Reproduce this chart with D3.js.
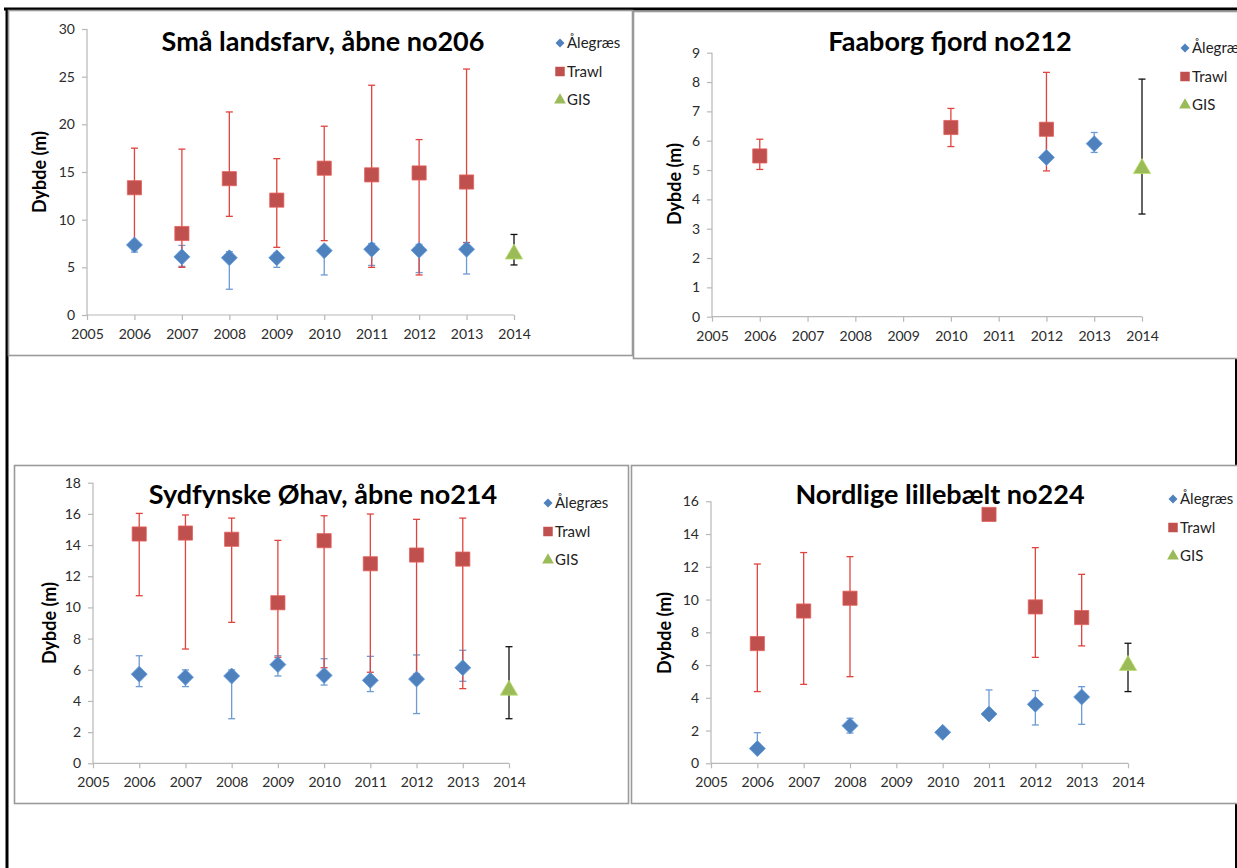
<!DOCTYPE html>
<html>
<head>
<meta charset="utf-8">
<script src="https://cdn.jsdelivr.net/npm/d3@7"></script>
<style>
  html, body { margin: 0; padding: 0; background: #fff; }
  svg { display: block; }
</style>
</head>
<body>
<svg id="chart" width="1237" height="868"></svg>
<script>
// ---- data: depth (m) per year, with lower / upper error values ----
const xTickYears = [2005, 2006, 2007, 2008, 2009, 2010, 2011, 2012, 2013, 2014];
const years = [2006, 2007, 2008, 2009, 2010, 2011, 2012, 2013];
const gisYear = [2014];
const seriesNames = ["Ålegræs", "Trawl", "GIS"];

// Små landsfarv, åbne no206
const no206Alegraes   = [7.35, 6.1, 6.0, 6.0, 6.75, 6.9, 6.8, 6.9];
const no206AlegraesLo = [6.6, 5.1, 2.7, 5.0, 4.2, 5.2, 4.45, 4.3];
const no206AlegraesHi = [7.6, 7.3, 6.65, 6.5, 7.0, 7.5, 7.4, 7.2];
const no206Trawl      = [13.35, 8.55, 14.3, 12.05, 15.4, 14.7, 14.9, 13.95];
const no206TrawlLo    = [7.6, 5.0, 10.35, 7.1, 7.8, 5.0, 4.2, 7.6];
const no206TrawlHi    = [17.5, 17.4, 21.3, 16.4, 19.8, 24.1, 18.4, 25.8];
const no206Gis   = [6.55];
const no206GisLo = [5.25];
const no206GisHi = [8.45];

// Faaborg fjord no212
const no212Alegraes   = [null, null, null, null, null, null, 5.43, 5.9];
const no212AlegraesLo = [null, null, null, null, null, null, 5.3, 5.6];
const no212AlegraesHi = [null, null, null, null, null, null, 6.2, 6.28];
const no212Trawl      = [5.48, null, null, null, 6.45, null, 6.39, null];
const no212TrawlLo    = [5.02, null, null, null, 5.8, null, 4.97, null];
const no212TrawlHi    = [6.05, null, null, null, 7.1, null, 8.33, null];
const no212Gis   = [5.1];
const no212GisLo = [3.5];
const no212GisHi = [8.1];

// Sydfynske Øhav, åbne no214
const no214Alegraes   = [5.72, 5.52, 5.6, 6.33, 5.64, 5.32, 5.4, 6.13];
const no214AlegraesLo = [4.92, 4.92, 2.86, 5.6, 5.02, 4.6, 3.19, 5.26];
const no214AlegraesHi = [6.9, 5.99, 5.99, 6.9, 6.71, 6.86, 6.95, 7.25];
const no214Trawl      = [14.71, 14.77, 14.37, 10.3, 14.28, 12.8, 13.36, 13.1];
const no214TrawlLo    = [10.75, 7.33, 9.04, 6.8, 6.13, 5.84, 5.73, 4.79];
const no214TrawlHi    = [16.03, 15.93, 15.73, 14.3, 15.88, 15.99, 15.65, 15.73];
const no214Gis   = [4.79];
const no214GisLo = [2.86];
const no214GisHi = [7.48];

// Nordlige lillebælt no224
const no224Alegraes   = [0.9, null, 2.3, null, 1.89, 3.01, 3.6, 4.05];
const no224AlegraesLo = [0.9, null, 1.85, null, 1.89, 3.01, 2.34, 2.38];
const no224AlegraesHi = [1.87, null, 2.75, null, 1.89, 4.48, 4.44, 4.68];
const no224Trawl      = [7.31, 9.3, 10.08, null, null, 15.2, 9.55, 8.9];
const no224TrawlLo    = [4.38, 4.82, 5.29, null, null, 15.2, 6.47, 7.17];
const no224TrawlHi    = [12.17, 12.87, 12.62, null, null, 15.2, 13.17, 11.54];
const no224Gis   = [6.07];
const no224GisLo = [4.38];
const no224GisHi = [7.33];

// ---- panels: titles, axis ranges and frame geometry ----
const panels = [
  { title: "Små landsfarv, åbne no206", yMax: 30, yStep: 5,
    box: [8, 10, 624, 345], xr: [87, 514], yr: [315, 29],
    titleX: 323, titleY: 51, labelX: 40, labelY: 172, legX: 560, legY: 43,
    ale: [no206Alegraes, no206AlegraesLo, no206AlegraesHi],
    trawl: [no206Trawl, no206TrawlLo, no206TrawlHi],
    gis: [no206Gis, no206GisLo, no206GisHi] },
  { title: "Faaborg fjord no212", yMax: 9, yStep: 1,
    box: [633, 11, 610, 347], xr: [712, 1142], yr: [316.7, 52.7],
    titleX: 950, titleY: 51, labelX: 675, labelY: 184, legX: 1185, legY: 48,
    ale: [no212Alegraes, no212AlegraesLo, no212AlegraesHi],
    trawl: [no212Trawl, no212TrawlLo, no212TrawlHi],
    gis: [no212Gis, no212GisLo, no212GisHi] },
  { title: "Sydfynske Øhav, åbne no214", yMax: 18, yStep: 2,
    box: [14, 465, 614, 338], xr: [93, 509], yr: [763.3, 482.7],
    titleX: 323, titleY: 504, labelX: 50, labelY: 623, legX: 548, legY: 503,
    ale: [no214Alegraes, no214AlegraesLo, no214AlegraesHi],
    trawl: [no214Trawl, no214TrawlLo, no214TrawlHi],
    gis: [no214Gis, no214GisLo, no214GisHi] },
  { title: "Nordlige lillebælt no224", yMax: 16, yStep: 2,
    box: [631, 465, 612, 338], xr: [711, 1128], yr: [763.3, 501.3],
    titleX: 940, titleY: 504, labelX: 665, labelY: 633, legX: 1173, legY: 499,
    ale: [no224Alegraes, no224AlegraesLo, no224AlegraesHi],
    trawl: [no224Trawl, no224TrawlLo, no224TrawlHi],
    gis: [no224Gis, no224GisLo, no224GisHi] }
];

const colors = {
  ale: "#4F81BD", aleBar: "#6d9bd3",
  trawl: "#C0504D", trawlBar: "#e0443e",
  gis: "#9BBB59", gisBar: "#111111"
};
const FONT = "Lato, 'Open Sans', sans-serif";

const svg = d3.select("#chart");

// outer page frame
const frame = svg.append("g");
frame.append("line").attr("x1", 4).attr("x2", 1237).attr("y1", 9).attr("y2", 9)
  .attr("stroke", "#000").attr("stroke-width", 3);
frame.append("line").attr("x1", 7).attr("x2", 7).attr("y1", 8).attr("y2", 868)
  .attr("stroke", "#000").attr("stroke-width", 3);
frame.append("line").attr("x1", 1236).attr("x2", 1236).attr("y1", 357).attr("y2", 868)
  .attr("stroke", "#000").attr("stroke-width", 2);

// square-proportioned diamond (a square turned 45°)
const diamondPath = s => {
  const r = Math.sqrt(s) / 2 * Math.SQRT2;
  return `M0,${-r}L${r},0L0,${r}L${-r},0Z`;
};
const square = d3.symbol().type(d3.symbolSquare);
const triangle = d3.symbol().type(d3.symbolTriangle);
const shapeFor = (key, size) =>
  key === "ale" ? diamondPath(size) : key === "trawl" ? square.size(size)() : triangle.size(size)();

panels.forEach(p => {
  const g = svg.append("g");

  // chart area border
  g.append("rect")
    .attr("x", p.box[0] + 0.5).attr("y", p.box[1] + 0.5)
    .attr("width", p.box[2]).attr("height", p.box[3])
    .attr("fill", "#fff").attr("stroke", "#9a9a9a").attr("stroke-width", 1.6);

  const x = d3.scaleLinear().domain([2005, 2014]).range(p.xr);
  const y = d3.scaleLinear().domain([0, p.yMax]).range(p.yr);

  // axes
  const yTicks = d3.range(0, p.yMax + p.yStep / 2, p.yStep);
  const yAxis = d3.axisLeft(y).tickValues(yTicks).tickSize(5).tickPadding(7)
    .tickFormat(d3.format("d"));
  const xAxis = d3.axisBottom(x).tickValues(xTickYears).tickSize(5).tickPadding(9)
    .tickFormat(d3.format("d"));

  const ya = g.append("g").attr("transform", `translate(${p.xr[0]},0)`).call(yAxis);
  const xa = g.append("g").attr("transform", `translate(0,${p.yr[0]})`).call(xAxis);
  [ya, xa].forEach(a => {
    a.select(".domain").attr("stroke", "#b8b8b8").attr("stroke-width", 1.2);
    a.selectAll(".tick line").attr("stroke", "#b8b8b8").attr("stroke-width", 1.2);
    a.selectAll(".tick text").attr("fill", "#2b2b2b")
      .style("font-family", FONT).style("font-size", "14px");
  });
  // the axis path draws outer ticks; keep it as a plain line
  ya.select(".domain").attr("d", `M0,${p.yr[0]}V${p.yr[1]}`);
  xa.select(".domain").attr("d", `M${p.xr[0]},0H${p.xr[1]}`);

  // title
  g.append("text").attr("x", p.titleX).attr("y", p.titleY)
    .attr("text-anchor", "middle").attr("fill", "#000")
    .style("font-family", FONT).style("font-weight", "bold").style("font-size", "27px")
    .text(p.title);

  // y axis label
  g.append("text")
    .attr("transform", `translate(${p.labelX},${p.labelY}) rotate(-90)`)
    .attr("text-anchor", "middle").attr("dy", "0.35em").attr("fill", "#000")
    .style("font-family", FONT).style("font-weight", "bold").style("font-size", "18px")
    .text("Dybde (m)");

  // series rows built from the arrays
  const rows = (xs, arr) => xs.map((yr, i) => ({ yr, v: arr[0][i], lo: arr[1][i], hi: arr[2][i] }))
    .filter(d => d.v != null);

  const series = [
    { key: "ale", data: rows(years, p.ale), size: 128, bar: colors.aleBar, fill: colors.ale },
    { key: "trawl", data: rows(years, p.trawl), size: 200, bar: colors.trawlBar, fill: colors.trawl },
    { key: "gis", data: rows(gisYear, p.gis), size: 130, bar: colors.gisBar, fill: colors.gis }
  ];

  const cap = 3.5;
  // error bars underneath every marker
  series.forEach(s => {
    const eb = g.append("g").attr("stroke", s.bar).attr("stroke-width", 1.3).attr("fill", "none");
    s.data.filter(d => d.hi !== d.lo).forEach(d => {
      const cx = x(d.yr);
      eb.append("line").attr("x1", cx).attr("x2", cx).attr("y1", y(d.lo)).attr("y2", y(d.hi));
      eb.append("line").attr("x1", cx - cap).attr("x2", cx + cap).attr("y1", y(d.lo)).attr("y2", y(d.lo));
      eb.append("line").attr("x1", cx - cap).attr("x2", cx + cap).attr("y1", y(d.hi)).attr("y2", y(d.hi));
    });
  });

  // markers
  series.forEach(s => {
    g.append("g").selectAll("path").data(s.data).join("path")
      .attr("transform", d => `translate(${x(d.yr)},${y(d.v) + (s.key === "gis" ? 1.5 : 0)})`)
      .attr("d", shapeFor(s.key, s.size))
      .attr("fill", s.fill)
      .attr("stroke", d3.color(s.fill).brighter(0.5))
      .attr("stroke-width", 0.8);
  });

  // legend
  const leg = g.append("g").attr("transform", `translate(${p.legX},${p.legY})`);
  const legSize = [40, 90, 60];
  const legFill = [colors.ale, colors.trawl, colors.gis];
  const legKey = ["ale", "trawl", "gis"];
  seriesNames.forEach((name, i) => {
    const row = leg.append("g").attr("transform", `translate(0,${i * 28.5})`);
    row.append("path").attr("d", shapeFor(legKey[i], legSize[i])).attr("fill", legFill[i]);
    row.append("text").attr("x", 7).attr("dy", "0.35em").attr("fill", "#222")
      .style("font-family", FONT).style("font-size", "15px").text(name);
  });
});
</script>
</body>
</html>
